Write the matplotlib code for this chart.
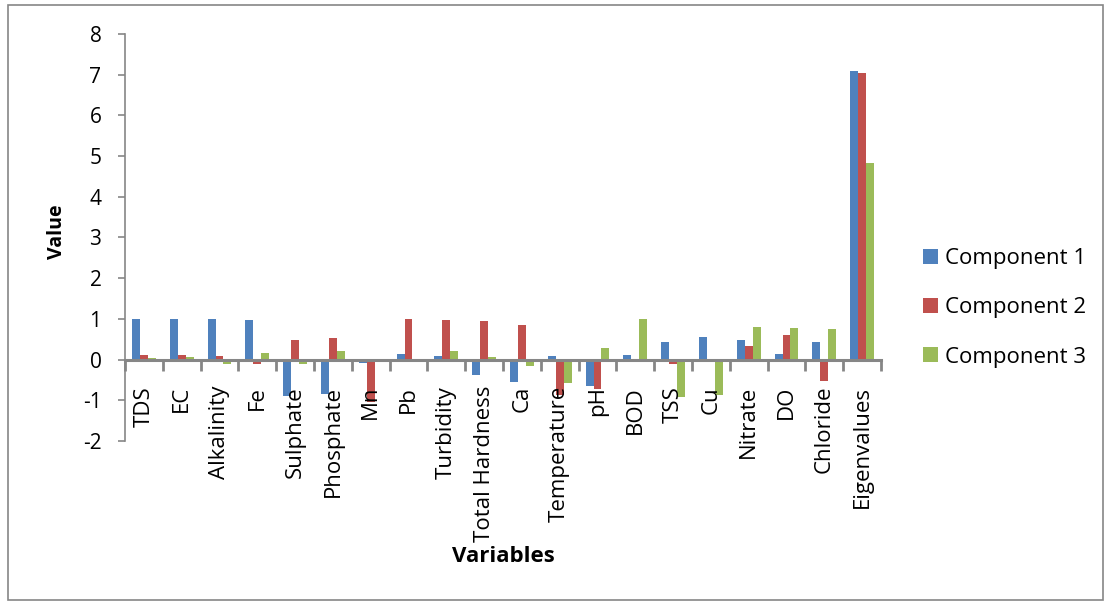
import matplotlib
matplotlib.use("Agg")
import matplotlib.pyplot as plt
from matplotlib.patches import Rectangle
import numpy as np

plt.rcParams['font.family'] = ['Open Sans', 'DejaVu Sans']
plt.rcParams['axes.unicode_minus'] = False

variables = ["TDS", "EC", "Alkalinity", "Fe", "Sulphate", "Phosphate", "Mn", "Pb",
             "Turbidity", "Total Hardness", "Ca", "Temperature", "pH", "BOD", "TSS",
             "Cu", "Nitrate", "DO", "Chloride", "Eigenvalues"]
comp1 = [1.00, 1.00, 0.99, 0.98, -0.89, -0.84, -0.08, 0.13, 0.09, -0.37, -0.54, 0.08,
         -0.66, 0.12, 0.42, 0.55, 0.47, 0.14, 0.42, 7.09]
comp2 = [0.11, 0.11, 0.08, -0.12, 0.49, 0.53, -1.04, 1.00, 0.97, 0.94, 0.86, -0.87,
         -0.72, -0.05, -0.12, 0.0, 0.33, 0.60, -0.53, 7.03]
comp3 = [0.03, 0.06, -0.12, 0.17, -0.11, 0.20, -0.06, -0.06, 0.22, 0.07, -0.15, -0.58,
         0.28, 1.00, -0.92, -0.86, 0.80, 0.78, 0.75, 4.83]
labels = ["Component 1", "Component 2", "Component 3"]
colors = ["#4F81BD", "#C0504D", "#9BBB59"]

axis_gray = "#868686"
fs = 16

fig = plt.figure(figsize=(11.11, 6.04), dpi=100)
fig.patches.append(Rectangle((0.007, 0.007), 0.986, 0.985, transform=fig.transFigure,
                             fill=False, edgecolor=axis_gray, linewidth=1.2))

ax = fig.add_axes([0.1125, 0.2699, 0.6805, 0.6738])
x = np.arange(len(variables))
w = 0.21
for i, (vals, lab, col) in enumerate(zip([comp1, comp2, comp3], labels, colors)):
    ax.bar(x + (i - 1) * w, vals, width=w, color=col, label=lab)

ax.set_xlim(-0.5, len(variables) - 0.5)
ax.set_ylim(-2, 8)
ax.set_yticks(range(-2, 9))
ax.tick_params(axis='y', direction='out', length=5, width=1.2, color=axis_gray,
               labelsize=15, pad=12)

for s in ['top', 'right']:
    ax.spines[s].set_visible(False)
ax.spines['left'].set_color(axis_gray)
ax.spines['left'].set_linewidth(1.2)
ax.spines['bottom'].set_position(('data', 0))
ax.spines['bottom'].set_color(axis_gray)
ax.spines['bottom'].set_linewidth(2.2)

ax.set_xticks(x)
ax.set_xticklabels(variables, rotation=90, fontsize=fs)
ax.set_xticks(np.arange(-0.5, len(variables)), minor=True)
ax.tick_params(axis='x', which='major', length=0, pad=19)
ax.tick_params(axis='x', which='minor', direction='out', length=8, width=2, color=axis_gray)

fig.text(0.0513, 0.616, "Value", rotation=90, fontsize=14, fontweight='bold',
         ha='center', va='center')
fig.text(0.453, 0.078, "Variables", fontsize=fs, fontweight='bold',
         ha='center', va='center')

ax.legend(loc='center left', bbox_to_anchor=(1.0556, 0.327), frameon=False,
          fontsize=fs, handlelength=0.68, handleheight=0.68, labelspacing=1.27,
          handletextpad=0.32, borderpad=0, borderaxespad=0)

fig.savefig("out.png", dpi=100)
